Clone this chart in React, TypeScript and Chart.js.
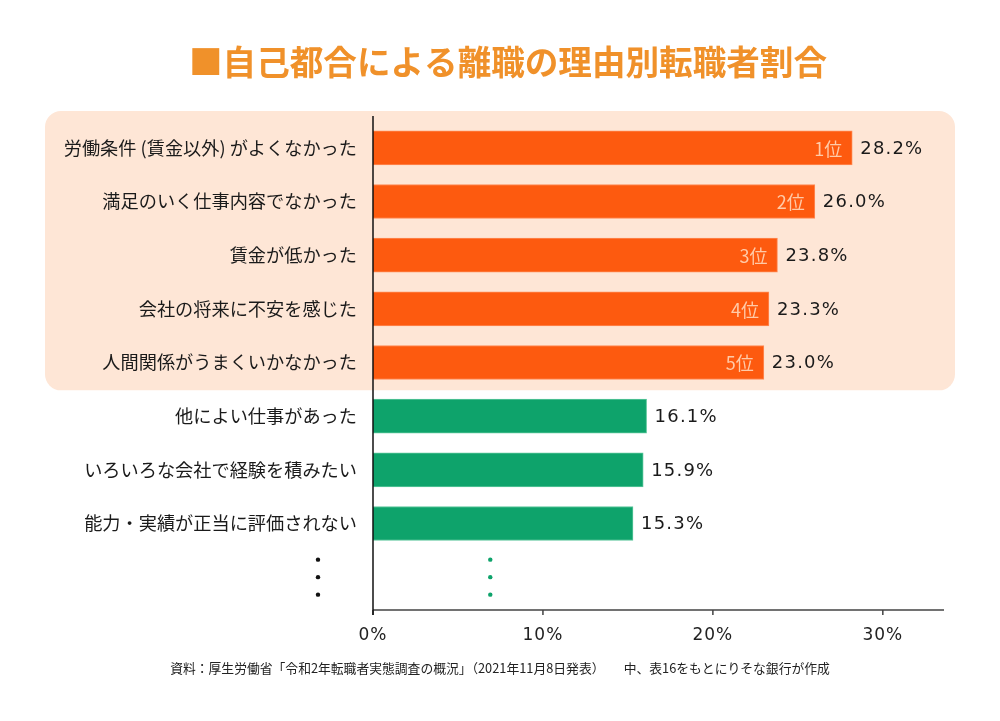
import React, { useEffect, useRef } from 'react';
import { Chart, registerables } from 'chart.js';

Chart.register(...registerables);

const titleText = '■自己都合による離職の理由別転職者割合';
const footnoteText = '資料：厚生労働省「令和2年転職者実態調査の概況」（2021年11月8日発表）　　中、表16をもとにりそな銀行が作成';

const categories = [
  '労働条件 (賃金以外) がよくなかった',
  '満足のいく仕事内容でなかった',
  '賃金が低かった',
  '会社の将来に不安を感じた',
  '人間関係がうまくいかなかった',
  '他によい仕事があった',
  'いろいろな会社で経験を積みたい',
  '能力・実績が正当に評価されない',
  '',
];
const values: (number | null)[] = [28.2, 26.0, 23.8, 23.3, 23.0, 16.1, 15.9, 15.3, null];
const ranks = ['1位', '2位', '3位', '4位', '5位', '', '', '', ''];
const topCount = 5;
const xTicks = [0, 10, 20, 30];
const xMax = 33.6;
const ellipsisValue = 6.9;

const FONT = '"Noto Sans CJK JP", "Noto Sans", sans-serif';
const NUMFONT = '"DejaVu Sans", sans-serif';
const ORANGE = '#fd5a0f';
const GREEN = '#0ea36b';

export default function App() {
  const ref = useRef<HTMLCanvasElement | null>(null);

  useEffect(() => {
    if (!ref.current) return;
    const decor = {
      id: 'decor',
      beforeDraw(chart: any) {
        const { ctx, chartArea, scales } = chart;
        const y = scales.y;
        const rowH = y.getPixelForValue(1) - y.getPixelForValue(0);
        const top = y.getPixelForValue(0) - rowH / 2 - 10;
        const bottom = y.getPixelForValue(topCount - 1) + rowH / 2 + 1;
        const left = 45;
        const right = chartArea.right + 11;
        ctx.save();
        ctx.fillStyle = '#fee6d6';
        ctx.beginPath();
        (ctx as any).roundRect(left, top, right - left, bottom - top, 16);
        ctx.fill();
        ctx.restore();
      },
      afterDatasetsDraw(chart: any) {
        const { ctx, chartArea, scales } = chart;
        const x = scales.x;
        const y = scales.y;
        const axisY = chartArea.bottom + 6;
        ctx.save();
        // axes
        ctx.strokeStyle = '#444';
        ctx.lineWidth = 1.5;
        ctx.beginPath();
        ctx.moveTo(chartArea.left, axisY);
        ctx.lineTo(chartArea.right, axisY);
        xTicks.forEach((t) => {
          const px = x.getPixelForValue(t);
          ctx.moveTo(px, axisY);
          ctx.lineTo(px, axisY + 5);
        });
        ctx.stroke();
        ctx.strokeStyle = '#111';
        ctx.beginPath();
        ctx.moveTo(chartArea.left, chartArea.top - 5);
        ctx.lineTo(chartArea.left, axisY + 5);
        ctx.stroke();

        // x tick labels
        ctx.fillStyle = '#222';
        ctx.font = `17px ${NUMFONT}`;
        (ctx as any).letterSpacing = '1px';
        ctx.textAlign = 'center';
        ctx.textBaseline = 'middle';
        xTicks.forEach((t) => {
          ctx.fillText(`${t}%`, x.getPixelForValue(t), axisY + 26);
        });

        // value + rank labels
        const meta = chart.getDatasetMeta(0);
        meta.data.forEach((bar: any, i: number) => {
          const v = values[i];
          if (v == null) return;
          ctx.textBaseline = 'middle';
          ctx.font = `18px ${NUMFONT}`;
          (ctx as any).letterSpacing = '1.2px';
          ctx.fillStyle = '#1a1a1a';
          ctx.textAlign = 'left';
          ctx.fillText(v.toFixed(1) + '%', bar.x + 8, bar.y + 1);
          if (ranks[i]) {
            (ctx as any).letterSpacing = '0px';
            ctx.font = `18px ${FONT}`;
            ctx.fillStyle = '#ffcaa8';
            ctx.textAlign = 'right';
            ctx.fillText(ranks[i], bar.x - 10, bar.y + 1);
          }
        });
        (ctx as any).letterSpacing = '0px';

        // ellipsis dots
        const cy = y.getPixelForValue(categories.length - 1);
        const gx = x.getPixelForValue(ellipsisValue);
        const bx = chartArea.left - 55;
        [-17.5, 0, 17.5].forEach((d) => {
          ctx.fillStyle = '#111';
          ctx.beginPath();
          ctx.arc(bx, cy + d, 2.2, 0, Math.PI * 2);
          ctx.fill();
          ctx.fillStyle = GREEN;
          ctx.beginPath();
          ctx.arc(gx, cy + d, 2.2, 0, Math.PI * 2);
          ctx.fill();
        });
        ctx.restore();
      },
      afterDraw(chart: any) {
        const { ctx } = chart;
        ctx.save();
        ctx.textAlign = 'center';
        ctx.textBaseline = 'middle';
        ctx.fillStyle = '#f0912a';
        ctx.font = `bold 33.6px ${FONT}`;
        ctx.fillText(titleText, 508, 62);
        ctx.fillStyle = '#222';
        ctx.font = `12.8px ${FONT}`;
        ctx.fillText(footnoteText, 500, 668);
        ctx.restore();
      },
    };

    const chart = new Chart(ref.current, {
      type: 'bar',
      data: {
        labels: categories,
        datasets: [
          {
            data: values as any,
            backgroundColor: values.map((_, i) => (i < topCount ? ORANGE : GREEN)),
            borderColor: values.map((_, i) => (i < topCount ? '#ff8a55' : '#5cc79c')),
            borderWidth: 1,
            barThickness: 34,
          },
        ],
      },
      options: {
        indexAxis: 'y',
        responsive: false,
        animation: false,
        layout: { padding: { top: 121, right: 56, bottom: 75, left: 0 } },
        plugins: {
          legend: { display: false },
          tooltip: { enabled: false },
          title: { display: false },
        },
        scales: {
          x: {
            min: 0,
            max: xMax,
            grid: { display: false },
            border: { display: false },
            afterBuildTicks: (s: any) => {
              s.ticks = xTicks.map((v) => ({ value: v }));
            },
            afterFit: (s: any) => {
              s.height = 42;
            },
            ticks: { display: false },
          },
          y: {
            grid: { display: false },
            border: { display: false },
            afterFit: (s: any) => {
              s.width = 373;
            },
            ticks: {
              padding: 8,
              color: '#1a1a1a',
              font: { family: FONT, size: 18.2 },
            },
          },
        },
      },
      plugins: [decor],
    });
    return () => chart.destroy();
  }, []);

  return (
    <div style={{ position: 'absolute', left: 0, top: 0, width: 1000, height: 721, background: '#fff' }}>
      <canvas ref={ref} width={1000} height={721} />
    </div>
  );
}
